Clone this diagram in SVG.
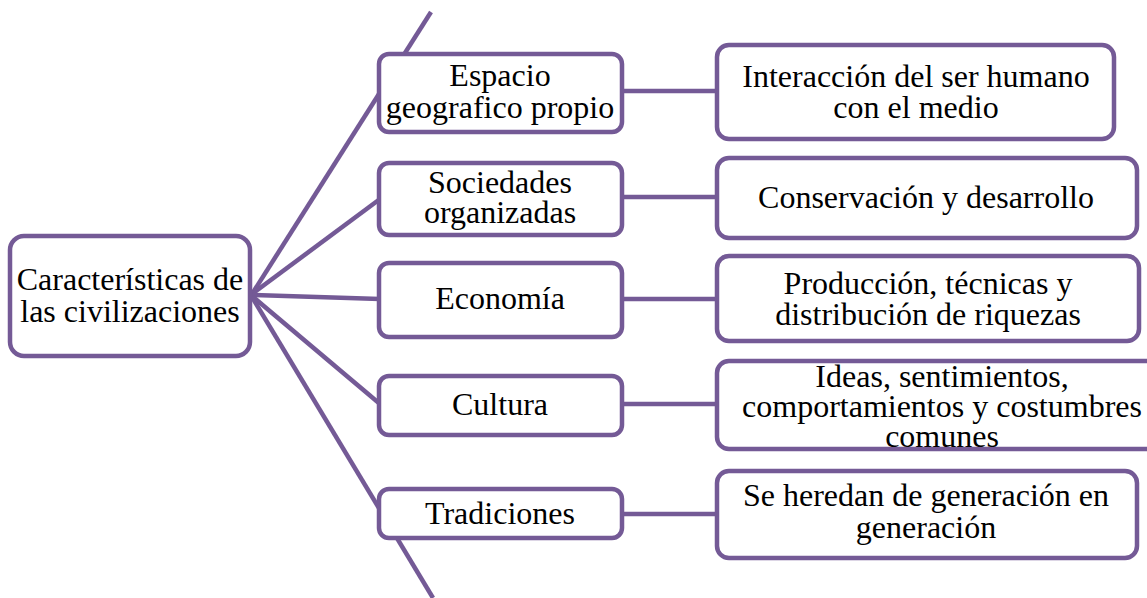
<svg xmlns="http://www.w3.org/2000/svg" width="1147" height="598" viewBox="0 0 1147 598">
<defs>
<style>
.box{fill:#ffffff;stroke:#745a96;stroke-width:4.5}
.ln{stroke:#745a96;stroke-width:4.5;fill:none}
</style>
</defs>
<rect width="1147" height="598" fill="#ffffff"/>
<g id="connectors">
<line class="ln" x1="252" y1="294" x2="431" y2="12"/>
<line class="ln" x1="252" y1="294" x2="380" y2="199"/>
<line class="ln" x1="252" y1="295" x2="380" y2="299"/>
<line class="ln" x1="252" y1="296" x2="380" y2="404"/>
<line class="ln" x1="252" y1="297" x2="433" y2="598"/>
<line class="ln" x1="622" y1="91" x2="716" y2="91"/>
<line class="ln" x1="622" y1="197" x2="716" y2="197"/>
<line class="ln" x1="622" y1="299" x2="716" y2="299"/>
<line class="ln" x1="622" y1="404" x2="716" y2="404"/>
<line class="ln" x1="622" y1="514" x2="716" y2="514"/>
</g>
<g id="nodes" font-family="Liberation Serif, Times New Roman, serif" font-size="32" text-anchor="middle" fill="#000000">
<g id="root">
<rect class="box" x="10" y="236" width="240" height="120" rx="14"/>
<text x="130" y="290">Características de</text>
<text x="130" y="322">las civilizaciones</text>
</g>
<g id="espacio">
<rect class="box" x="379" y="54" width="243" height="78" rx="10"/>
<text x="500" y="86">Espacio</text>
<text x="500" y="118">geografico propio</text>
</g>
<g id="sociedades">
<rect class="box" x="379" y="163" width="243" height="72" rx="10"/>
<text x="500" y="193">Sociedades</text>
<text x="500" y="223">organizadas</text>
</g>
<g id="economia">
<rect class="box" x="379" y="263" width="243" height="74" rx="10"/>
<text x="500" y="309">Economía</text>
</g>
<g id="cultura">
<rect class="box" x="379" y="376" width="243" height="59" rx="10"/>
<text x="500" y="415">Cultura</text>
</g>
<g id="tradiciones">
<rect class="box" x="379" y="489" width="243" height="49" rx="10"/>
<text x="500" y="524">Tradiciones</text>
</g>
<g id="interaccion">
<rect class="box" x="717" y="45" width="397" height="94" rx="12"/>
<text x="916" y="87">Interacción del ser humano</text>
<text x="916" y="118">con el medio</text>
</g>
<g id="conservacion">
<rect class="box" x="717" y="158" width="420" height="80" rx="12"/>
<text x="926" y="208">Conservación y desarrollo</text>
</g>
<g id="produccion">
<rect class="box" x="717" y="256" width="422" height="85" rx="12"/>
<text x="928" y="294">Producción, técnicas y</text>
<text x="928" y="325">distribución de riquezas</text>
</g>
<g id="ideas">
<rect class="box" x="717" y="361" width="452" height="88" rx="12"/>
<text x="942" y="387">Ideas, sentimientos,</text>
<text x="942" y="417">comportamientos y costumbres</text>
<text x="942" y="447">comunes</text>
</g>
<g id="heredan">
<rect class="box" x="717" y="471" width="420" height="87" rx="12"/>
<text x="926" y="506">Se heredan de generación en</text>
<text x="926" y="538">generación</text>
</g>
</g>
</svg>
